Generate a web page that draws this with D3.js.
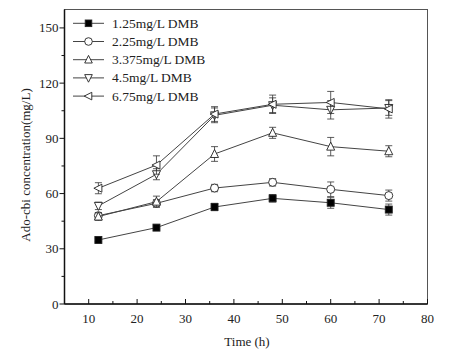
<!DOCTYPE html>
<html><head><meta charset="utf-8">
<script src="https://cdn.jsdelivr.net/npm/d3@7"></script>
<style>body{margin:0;background:#fff}svg{display:block}text{font-family:"Liberation Serif","DejaVu Serif",serif;fill:#222}</style>
</head><body>
<svg id="c" width="465" height="356"></svg>
<script>
const times = [12, 24, 36, 48, 60, 72];
const seriesNames = ["1.25mg/L DMB", "2.25mg/L DMB", "3.375mg/L DMB", "4.5mg/L DMB", "6.75mg/L DMB"];
const s1 = [34.8, 41.5, 52.7, 57.4, 55.0, 51.3];
const s2 = [48.0, 54.7, 63.0, 66.1, 62.3, 58.9];
const s3 = [47.5, 55.6, 81.5, 93.0, 85.5, 83.0];
const s4 = [53.3, 70.5, 102.5, 108.0, 105.5, 106.5];
const s5 = [62.9, 75.5, 103.2, 108.5, 109.5, 106.0];
const e1 = [1, 1, 2, 2, 3, 3];
const e2 = [1.5, 2, 2, 2, 4, 3];
const e3 = [2, 3, 4, 3, 5, 3];
const e4 = [2, 3, 4, 4, 5, 4];
const e5 = [3, 5, 4, 5, 6, 5];
const xTicks = [10, 20, 30, 40, 50, 60, 70, 80];
const yTicks = [0, 30, 60, 90, 120, 150];
const symbols = ["square", "circle", "triUp", "triDown", "triLeft"];

const vals = [s1, s2, s3, s4, s5], errs = [e1, e2, e3, e4, e5];
const svg = d3.select("#c");
const x = d3.scaleLinear().domain([5, 80]).range([64.5, 427.5]);
const y = d3.scaleLinear().domain([0, 160]).range([304, 9.5]);

// frame
svg.append("rect").attr("x", 64.5).attr("y", 9.5).attr("width", 363).attr("height", 294.5)
  .attr("fill", "none").attr("stroke", "#555").attr("stroke-width", 1);

// x axis: ticks inward
const gx = svg.append("g").attr("transform", "translate(0,304)");
gx.append("line").attr("x1", 64.5).attr("x2", 427.5).attr("stroke", "#111").attr("stroke-width", 1.5);
const xMinor = d3.range(5, 81, 5);
gx.selectAll("line.t").data(xMinor).join("line")
  .attr("x1", d => x(d)).attr("x2", d => x(d)).attr("y1", 0)
  .attr("y2", d => d % 10 === 0 ? -5 : -3).attr("stroke", "#111");
gx.selectAll("text").data(xTicks).join("text")
  .attr("x", d => x(d)).attr("y", 19).attr("text-anchor", "middle").attr("font-size", 13).text(d => d);
svg.append("text").attr("x", 247).attr("y", 346).attr("text-anchor", "middle").attr("font-size", 13).text("Time (h)");

// y axis: ticks outward
const gy = svg.append("g").attr("transform", "translate(64.5,0)");
gy.append("line").attr("y1", 9.5).attr("y2", 304).attr("stroke", "#111").attr("stroke-width", 1.5);
const yMinor = d3.range(0, 161, 15);
gy.selectAll("line.t").data(yMinor).join("line")
  .attr("y1", d => y(d)).attr("y2", d => y(d)).attr("x1", 0)
  .attr("x2", d => d % 30 === 0 ? -5 : -3).attr("stroke", "#111");
gy.selectAll("text").data(yTicks).join("text")
  .attr("x", -6).attr("y", d => y(d) + 4.5).attr("text-anchor", "end").attr("font-size", 13).text(d => d);
svg.append("text").attr("transform", "translate(30,165) rotate(-90)").attr("text-anchor", "middle")
  .attr("font-size", 13).text("Ado-cbi concentration(mg/L)");

function marker(g, type, cx, cy, r) {
  const fill = type === "square" ? "#000" : "#fff";
  let el;
  if (type === "square") el = g.append("rect").attr("x", cx - r).attr("y", cy - r).attr("width", 2 * r).attr("height", 2 * r);
  else if (type === "circle") el = g.append("circle").attr("cx", cx).attr("cy", cy).attr("r", r + 0.5);
  else {
    let pts;
    if (type === "triUp") pts = [[cx, cy - r - 1], [cx - r - 0.5, cy + r], [cx + r + 0.5, cy + r]];
    else if (type === "triDown") pts = [[cx, cy + r + 1], [cx - r - 0.5, cy - r], [cx + r + 0.5, cy - r]];
    else pts = [[cx - r - 1, cy], [cx + r, cy - r - 0.5], [cx + r, cy + r + 0.5]];
    el = g.append("polygon").attr("points", pts.map(p => p.join(",")).join(" "));
  }
  el.attr("fill", fill).attr("stroke", "#222").attr("stroke-width", 0.9);
}

const line = d3.line().x(d => x(d[0])).y(d => y(d[1]));
vals.forEach((v, i) => {
  const pts = times.map((t, j) => [t, v[j]]);
  const g = svg.append("g");
  g.append("path").attr("d", line(pts)).attr("fill", "none").attr("stroke", "#444").attr("stroke-width", 1);
  pts.forEach((p, j) => {
    const e = errs[i][j], cx = x(p[0]);
    g.append("line").attr("x1", cx).attr("x2", cx).attr("y1", y(p[1] - e)).attr("y2", y(p[1] + e)).attr("stroke", "#333").attr("stroke-width", 0.8);
    [p[1] - e, p[1] + e].forEach(vv => g.append("line").attr("x1", cx - 3.5).attr("x2", cx + 3.5).attr("y1", y(vv)).attr("y2", y(vv)).attr("stroke", "#333").attr("stroke-width", 0.8));
  });
  pts.forEach(p => marker(g, symbols[i], x(p[0]), y(p[1]), 3.5));
});

// legend
const leg = svg.append("g");
seriesNames.forEach((n, i) => {
  const yy = 23.3 + i * 18.2;
  leg.append("line").attr("x1", 73).attr("x2", 104).attr("y1", yy).attr("y2", yy).attr("stroke", "#444");
  marker(leg, symbols[i], 88.5, yy, 3.3);
  leg.append("text").attr("x", 112).attr("y", yy + 4.5).attr("font-size", 13.5).text(n);
});
</script>
</body></html>
